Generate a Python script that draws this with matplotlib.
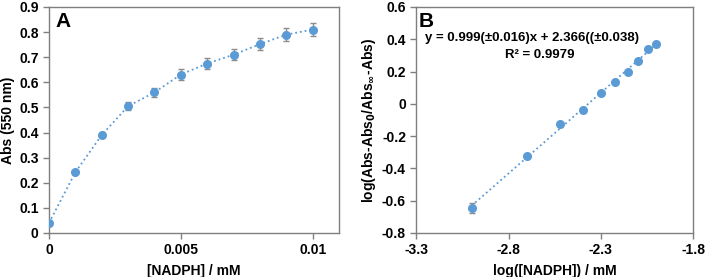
import matplotlib
matplotlib.use("Agg")
import matplotlib.pyplot as plt
import numpy as np

plt.rcParams['font.family'] = ['Liberation Sans', 'DejaVu Sans']
plt.rcParams['font.weight'] = 'bold'

# Panel A data
conc = [0, 0.001, 0.002, 0.003, 0.004, 0.005, 0.006, 0.007, 0.008, 0.009, 0.01]
absv = [0.04, 0.242, 0.39, 0.505, 0.56, 0.631, 0.675, 0.71, 0.752, 0.79, 0.81]
abs_err = [0.006, 0.006, 0.008, 0.017, 0.019, 0.021, 0.022, 0.023, 0.025, 0.027, 0.026]

# Panel B data
logc = [-3.0, -2.699, -2.523, -2.398, -2.301, -2.222, -2.155, -2.097, -2.046, -2.0]
logr = [-0.645, -0.325, -0.125, -0.04, 0.068, 0.137, 0.195, 0.268, 0.337, 0.372]
logr_err = [0.03, 0.008, 0.006, 0.005, 0.005, 0.005, 0.005, 0.006, 0.006, 0.006]
slope, intercept = 0.999, 2.366

blue = '#5B9BD5'
ecol = '#8C8C8C'
spine_col = '#7F7F7F'

fig = plt.figure(figsize=(7.08, 2.77), dpi=100)
axA = fig.add_axes([49/708, 1-233/277, (339-49)/708, (233-7)/277])
axB = fig.add_axes([416.3/708, 1-233/277, (693-416.3)/708, (233-7)/277])

for ax in (axA, axB):
    for s in ax.spines.values():
        s.set_color(spine_col)
        s.set_linewidth(1.0)
    ax.tick_params(direction='out', length=4, color=spine_col, labelsize=10, width=1.0)

# Panel A
axA.plot(conc, absv, linestyle=':', color=blue, linewidth=1.3, zorder=2)
axA.errorbar(conc, absv, yerr=abs_err, fmt='o', color=blue, ms=5.5,
             ecolor=ecol, elinewidth=1.0, capsize=2.5, capthick=1.0, zorder=3)
axA.set_xlim(0, 0.011)
axA.set_ylim(0, 0.9)
axA.set_xticks([0, 0.005, 0.01])
axA.set_xticklabels(['0', '0.005', '0.01'], fontweight='bold')
axA.set_yticks(np.arange(0, 0.91, 0.1))
axA.set_yticklabels(['0'] + ['%.1f' % v for v in np.arange(0.1, 0.91, 0.1)], fontweight='bold')
axA.set_xlabel('[NADPH] / mM', fontsize=10, fontweight='bold', labelpad=5)
axA.set_ylabel('Abs (550 nm)', fontsize=10, fontweight='bold', labelpad=3)
axA.text((55-49)/290, 1-(27-7)/226, 'A', transform=axA.transAxes, fontsize=15,
         fontweight='bold', va='baseline', ha='left')

# Panel B
xfit = np.array([logc[0], logc[-1]])
axB.plot(xfit, slope * xfit + intercept, linestyle=':', color=blue, linewidth=1.3, zorder=2)
axB.errorbar(logc, logr, yerr=logr_err, fmt='o', color=blue, ms=5.5,
             ecolor=ecol, elinewidth=1.0, capsize=2.5, capthick=1.0, zorder=3)
axB.set_xlim(-3.3, -1.8)
axB.set_ylim(-0.8, 0.6)
axB.set_xticks([-3.3, -2.8, -2.3, -1.8])
axB.set_xticklabels(['-3.3', '-2.8', '-2.3', '-1.8'], fontweight='bold')
yt = [-0.8, -0.6, -0.4, -0.2, 0, 0.2, 0.4, 0.6]
axB.set_yticks(yt)
axB.set_yticklabels(['-0.8', '-0.6', '-0.4', '-0.2', '0', '0.2', '0.4', '0.6'], fontweight='bold')
axB.set_xlabel('log([NADPH]) / mM', fontsize=10, fontweight='bold', labelpad=5)
axB.set_ylabel(r'log(Abs-Abs$_\mathbf{0}$/Abs$_\mathbf{\infty}$-Abs)', fontsize=10,
               fontweight='bold', labelpad=3)
axB.text((419-416.3)/276.7, 1-(27-7)/226, 'B', transform=axB.transAxes, fontsize=15,
         fontweight='bold', va='baseline', ha='left')
axB.text((532-416.3)/276.7, 1-(38-7)/226, 'y = 0.999(±0.016)x + 2.366((±0.038)',
         transform=axB.transAxes, fontsize=9.5, fontweight='bold', ha='center', va='center')
axB.text((540-416.3)/276.7, 1-(55-7)/226, 'R² = 0.9979',
         transform=axB.transAxes, fontsize=9.5, fontweight='bold', ha='center', va='center')

fig.savefig('out.png', dpi=100)
